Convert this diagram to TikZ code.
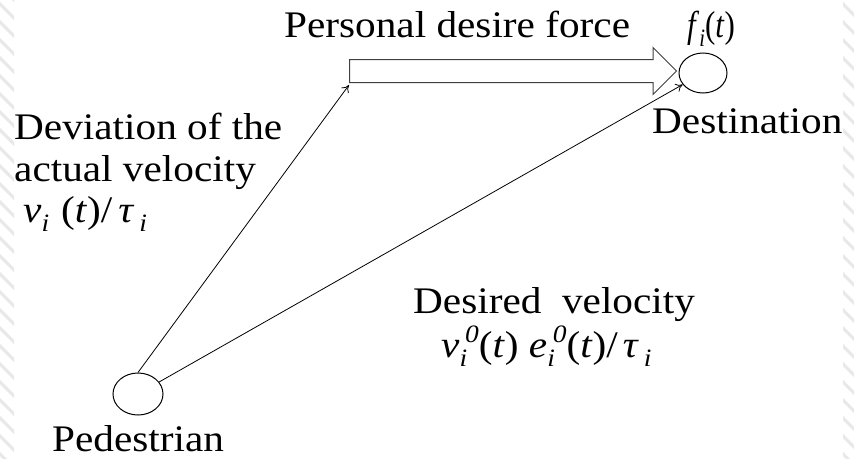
\documentclass[tikz,border=0pt]{standalone}
\usepackage{fontspec}
\setmainfont[FakeStretch=1.1]{Liberation Serif}
\usetikzlibrary{shapes.geometric,shapes.arrows,arrows.meta}
\newcommand{\lsub}[1]{\raisebox{-0.24em}{\fontsize{25}{25}\selectfont\textit{#1}}}
\newcommand{\lsup}[1]{\raisebox{0.4em}{\fontsize{25}{25}\selectfont\textit{#1}}}
\begin{document}
\begin{tikzpicture}[x=1pt,y=-1pt,
  lbl/.style={inner sep=0, anchor=base west, font=\fontsize{37.5}{44}\selectfont},
  agent/.style={ellipse, draw, line width=1pt, inner sep=0},
  conn/.style={line width=0.8pt, -{To[length=7pt,width=9pt]}},
  hatch/.style={draw=black!9, line width=3pt}]
\useasboundingbox (0,0) rectangle (854,458);
\fill[white] (0,0) rectangle (854,458);
\begin{scope}
  \clip (0,0) rectangle (14,458);
  \foreach \k in {-2,...,28} \draw[hatch] (-4,\k*18) -- ++(24,24);
\end{scope}
\begin{scope}
  \clip (843,0) rectangle (854,458);
  \foreach \k in {-2,...,28} \draw[hatch] (839,\k*18) -- ++(24,24);
\end{scope}
\node[agent, minimum width=50pt, minimum height=42pt] (ped) at (138,394) {};
\node[agent, minimum width=48pt, minimum height=40pt] (dest) at (703,73) {};
\node[single arrow, draw=black!75, fill=white, line width=1pt, inner xsep=0pt, inner ysep=11pt,
      minimum height=327pt, single arrow head extend=12pt, anchor=tail] (force) at (349,71) {};
\draw[conn] (ped.north) -- ([yshift=-2pt]force.before tail);
\draw[conn] (ped) -- (dest);
\node[lbl] (forcelbl) at (284,37) {Personal desire force};
\node[lbl] (forcesym) at (687,37) {\scalebox{0.75}[1]{\textit{f}\lsub{i}(\textit{t})}};
\node[lbl] (destlbl) at (652,133) {Destination};
\node[lbl] (dev1) at (14,139) {Deviation of the};
\node[lbl] (dev2) at (14,181) {actual velocity};
\node[lbl] (dev3) at (23,222) {\textit{v}\lsub{i}\hspace{12pt}(\textit{t})/\hspace{6pt}\textit{τ}\hspace{5pt}\lsub{i}};
\node[lbl] (des1) at (413,313) {Desired\ \ velocity};
\node[lbl] (des2) at (441,357) {\textit{v}\lsub{i}\hspace{-2pt}\lsup{0}(\textit{t}) \textit{e}\lsub{i}\hspace{-2pt}\lsup{0}(\textit{t})/\hspace{5pt}\textit{τ}\hspace{5pt}\lsub{i}};
\node[lbl, text depth=0pt] (pedlbl) at (52,451) {Pedestrian};
\end{tikzpicture}
\end{document}
